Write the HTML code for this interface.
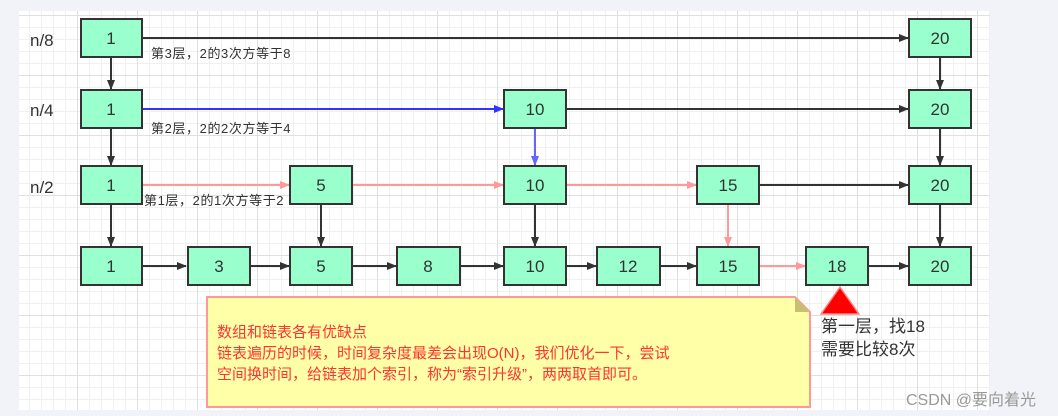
<!DOCTYPE html>
<html><head><meta charset="utf-8"><style>
body{margin:0;width:1058px;height:416px;background:#f2f3f8;position:relative;overflow:hidden;font-family:"Liberation Sans","Noto Sans CJK SC",sans-serif}
#cv{position:absolute;left:19px;top:11px;width:971px;height:399px;background-color:#fff;
background-image:linear-gradient(#e0e0e0 1px,transparent 1px),linear-gradient(90deg,#e0e0e0 1px,transparent 1px),linear-gradient(#f0f0f0 1px,transparent 1px),linear-gradient(90deg,#f0f0f0 1px,transparent 1px);
background-size:60px 60px,60px 60px,12px 12px,12px 12px;background-position:-2px 4px}
svg{position:absolute;left:0;top:0}
.t{position:absolute;white-space:nowrap}
</style></head><body>
<div id="cv"></div>
<svg width="1058" height="416">
<defs>
<marker id="k" markerWidth="10" markerHeight="8" refX="9" refY="4" orient="auto" markerUnits="userSpaceOnUse"><path d="M0,0L10,4L0,8z" fill="#333"/></marker>
<marker id="b" markerWidth="10" markerHeight="8" refX="9" refY="4" orient="auto" markerUnits="userSpaceOnUse"><path d="M0,0L10,4L0,8z" fill="#33f"/></marker>
<marker id="p" markerWidth="10" markerHeight="8" refX="9" refY="4" orient="auto" markerUnits="userSpaceOnUse"><path d="M0,0L10,4L0,8z" fill="#f99"/></marker>
<marker id="lb" markerWidth="10" markerHeight="8" refX="9" refY="4" orient="auto" markerUnits="userSpaceOnUse"><path d="M0,0L10,4L0,8z" fill="#66f"/></marker>
</defs>
<g stroke-width="2" fill="none">
<line x1="142" y1="38" x2="908" y2="38" stroke="#333" marker-end="url(#k)"/>
<line x1="111" y1="57" x2="111" y2="89" stroke="#333" marker-end="url(#k)"/>
<line x1="940" y1="57" x2="940" y2="89" stroke="#333" marker-end="url(#k)"/>
<line x1="142" y1="109" x2="503" y2="109" stroke="#33f" marker-end="url(#b)"/>
<line x1="566" y1="109" x2="908" y2="109" stroke="#333" marker-end="url(#k)"/>
<line x1="111" y1="128" x2="111" y2="165" stroke="#333" marker-end="url(#k)"/>
<line x1="535" y1="128" x2="535" y2="165" stroke="#66f" marker-end="url(#lb)"/>
<line x1="940" y1="128" x2="940" y2="165" stroke="#333" marker-end="url(#k)"/>
<line x1="142" y1="185" x2="289" y2="185" stroke="#f99" marker-end="url(#p)"/>
<line x1="352" y1="185" x2="503" y2="185" stroke="#f99" marker-end="url(#p)"/>
<line x1="566" y1="185" x2="696" y2="185" stroke="#f99" marker-end="url(#p)"/>
<line x1="759" y1="185" x2="908" y2="185" stroke="#333" marker-end="url(#k)"/>
<line x1="111" y1="204" x2="111" y2="246" stroke="#333" marker-end="url(#k)"/>
<line x1="321" y1="204" x2="321" y2="246" stroke="#333" marker-end="url(#k)"/>
<line x1="535" y1="204" x2="535" y2="246" stroke="#333" marker-end="url(#k)"/>
<line x1="728" y1="204" x2="728" y2="246" stroke="#f99" marker-end="url(#p)"/>
<line x1="940" y1="204" x2="940" y2="246" stroke="#333" marker-end="url(#k)"/>
<line x1="142" y1="266" x2="186" y2="266" stroke="#333" marker-end="url(#k)"/>
<line x1="250" y1="266" x2="289" y2="266" stroke="#333" marker-end="url(#k)"/>
<line x1="352" y1="266" x2="396" y2="266" stroke="#333" marker-end="url(#k)"/>
<line x1="460" y1="266" x2="503" y2="266" stroke="#333" marker-end="url(#k)"/>
<line x1="566" y1="266" x2="596" y2="266" stroke="#333" marker-end="url(#k)"/>
<line x1="660" y1="266" x2="696" y2="266" stroke="#333" marker-end="url(#k)"/>
<line x1="759" y1="266" x2="805" y2="266" stroke="#f99" marker-end="url(#p)"/>
<line x1="868" y1="266" x2="908" y2="266" stroke="#333" marker-end="url(#k)"/>
</g>
<g fill="#99ffcc" stroke="#333" stroke-width="2">
<rect x="81" y="19" width="61" height="38"/><rect x="909" y="19" width="62" height="38"/>
<rect x="81" y="90" width="61" height="38"/><rect x="504" y="90" width="62" height="38"/><rect x="909" y="90" width="62" height="38"/>
<rect x="81" y="166" width="61" height="38"/><rect x="290" y="166" width="62" height="38"/><rect x="504" y="166" width="62" height="38"/><rect x="697" y="166" width="62" height="38"/><rect x="909" y="166" width="62" height="38"/>
<rect x="81" y="247" width="61" height="38"/><rect x="188" y="247" width="62" height="38"/><rect x="290" y="247" width="62" height="38"/><rect x="397" y="247" width="63" height="38"/><rect x="504" y="247" width="62" height="38"/><rect x="597" y="247" width="63" height="38"/><rect x="697" y="247" width="62" height="38"/><rect x="806" y="247" width="62" height="38"/><rect x="909" y="247" width="62" height="38"/>
</g>
<g font-family="Liberation Sans, sans-serif" font-size="17" fill="#333" text-anchor="middle">
<text x="111" y="44">1</text><text x="940" y="44">20</text>
<text x="111" y="115">1</text><text x="535" y="115">10</text><text x="940" y="115">20</text>
<text x="111" y="191">1</text><text x="321" y="191">5</text><text x="535" y="191">10</text><text x="728" y="191">15</text><text x="940" y="191">20</text>
<text x="111" y="272">1</text><text x="219" y="272">3</text><text x="321" y="272">5</text><text x="428" y="272">8</text><text x="535" y="272">10</text><text x="628" y="272">12</text><text x="728" y="272">15</text><text x="837" y="272">18</text><text x="940" y="272">20</text>
</g>
<g font-family="Liberation Sans, sans-serif" font-size="17" fill="#333">
<text x="30" y="46">n/8</text><text x="30" y="116">n/4</text><text x="30" y="193">n/2</text>
</g>
<path d="M207,297H795L810,312V407H207Z" fill="#ffffa8" stroke="#f99" stroke-width="2"/>
<path d="M795,297V312H810Z" fill="#c8c070"/>
<path d="M821,314L840,287L859,314Z" fill="#f00" stroke="#f88" stroke-width="1.5"/>
</svg>
<div class="t" style="left:151px;top:43px;font-size:13px;letter-spacing:0.6px;color:#333">第3层，2的3次方等于8</div>
<div class="t" style="left:151px;top:118px;font-size:13px;letter-spacing:0.6px;color:#333">第2层，2的2次方等于4</div>
<div class="t" style="left:144px;top:190px;font-size:13px;letter-spacing:0.6px;color:#333">第1层，2的1次方等于2</div>
<div class="t" style="left:217px;top:322px;font-size:15px;line-height:21px;color:#f33">数组和链表各有优缺点<br>链表遍历的时候，时间复杂度最差会出现O(N)，我们优化一下，尝试<br>空间换时间，给链表加个索引，称为“索引升级”，两两取首即可。</div>
<div class="t" style="left:821px;top:315px;font-size:17px;line-height:23px;color:#333">第一层，找18<br>需要比较8次</div>
<div class="t" style="left:906px;top:386px;font-size:16px;color:#999">CSDN @要向着光</div>
</body></html>
